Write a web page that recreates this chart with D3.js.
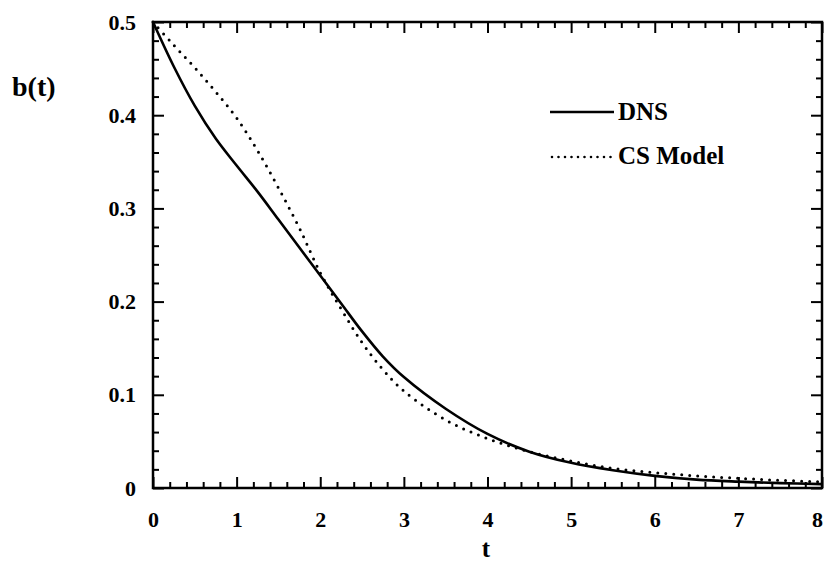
<!DOCTYPE html>
<html><head><meta charset="utf-8">
<script src="https://cdn.jsdelivr.net/npm/d3@7"></script>
<style>
html,body{margin:0;padding:0;background:#fff;}
svg{display:block;}
text{font-family:"Liberation Serif","Times New Roman",serif;font-weight:bold;fill:#000;}
</style></head>
<body><svg id="c" width="825" height="564"></svg>
<script>
const tValues = [0,0.25,0.5,0.75,1,1.25,1.5,1.75,2,2.25,2.5,2.75,3,3.5,4,4.5,5,5.5,6,6.5,7,7.5,8];
const dnsValues = [0.500,0.452,0.410,0.375,0.346,0.318,0.288,0.258,0.228,0.198,0.168,0.141,0.119,0.085,0.058,0.039,0.027,0.019,0.013,0.009,0.0068,0.0052,0.0042];
const csValues  = [0.500,0.475,0.451,0.425,0.397,0.362,0.322,0.279,0.231,0.192,0.156,0.127,0.104,0.073,0.053,0.039,0.029,0.021,0.0165,0.013,0.0104,0.0082,0.0066];
const xTickLabels = ["0","1","2","3","4","5","6","7","8"];
const yTickLabels = ["0","0.1","0.2","0.3","0.4","0.5"];
const seriesNames = ["DNS","CS Model"];

const svg = d3.select("#c");
const L=153, R=822, T=22, B=488;
const x = d3.scaleLinear().domain([0,8]).range([L,R]);
const y = d3.scaleLinear().domain([0,0.5]).range([B,T]);

const xMajor = xTickLabels.map(Number);
const yMajor = yTickLabels.map(Number);
const xMinor = d3.range(0,8.0001,0.2).filter(v=>Math.abs(v-Math.round(v))>1e-6);
const yMinor = d3.range(0,0.50001,0.02).filter(v=>Math.abs(v*10-Math.round(v*10))>1e-6);

function styleAxis(g){
  g.select(".domain").remove();
  g.selectAll(".tick line").attr("stroke","#000").attr("stroke-width",2);
}
// bottom
const bx = svg.append("g").attr("transform",`translate(0,${B})`)
  .call(d3.axisBottom(x).tickValues(xMajor).tickFormat((d,i)=>xTickLabels[i]).tickSize(-11).tickSizeOuter(0).tickPadding(23))
  .call(styleAxis);
bx.selectAll("text").style("font-size","22px").style("font-family","Liberation Serif").style("font-weight","bold");
bx.selectAll(".tick").filter(d=>d===8).select("text").attr("x",-5);
svg.append("g").attr("transform",`translate(0,${B})`)
  .call(d3.axisBottom(x).tickValues(xMinor).tickFormat("").tickSize(-6).tickSizeOuter(0)).call(styleAxis);
// top
svg.append("g").attr("transform",`translate(0,${T})`)
  .call(d3.axisTop(x).tickValues(xMajor).tickFormat("").tickSize(-11).tickSizeOuter(0)).call(styleAxis);
svg.append("g").attr("transform",`translate(0,${T})`)
  .call(d3.axisTop(x).tickValues(xMinor).tickFormat("").tickSize(-6).tickSizeOuter(0)).call(styleAxis);
// left
svg.append("g").attr("transform",`translate(${L},0)`)
  .call(d3.axisLeft(y).tickValues(yMajor).tickFormat((d,i)=>yTickLabels[i]).tickSize(-11).tickSizeOuter(0).tickPadding(17))
  .call(styleAxis).selectAll("text").style("font-size","22px").style("font-family","Liberation Serif").style("font-weight","bold");
svg.append("g").attr("transform",`translate(${L},0)`)
  .call(d3.axisLeft(y).tickValues(yMinor).tickFormat("").tickSize(-6).tickSizeOuter(0)).call(styleAxis);
// right
svg.append("g").attr("transform",`translate(${R},0)`)
  .call(d3.axisRight(y).tickValues(yMajor).tickFormat("").tickSize(-11).tickSizeOuter(0)).call(styleAxis);
svg.append("g").attr("transform",`translate(${R},0)`)
  .call(d3.axisRight(y).tickValues(yMinor).tickFormat("").tickSize(-6).tickSizeOuter(0)).call(styleAxis);

// frame
svg.append("rect").attr("x",L).attr("y",T).attr("width",R-L).attr("height",B-T)
  .attr("fill","none").attr("stroke","#000").attr("stroke-width",2.5);

const line = d3.line().x((d,i)=>x(tValues[i])).y(d=>y(d)).curve(d3.curveCatmullRom.alpha(0.5));
svg.append("path").datum(dnsValues).attr("d",line).attr("fill","none").attr("stroke","#000").attr("stroke-width",2.6);
svg.append("path").datum(csValues).attr("d",line).attr("fill","none").attr("stroke","#000").attr("stroke-width",3)
  .attr("stroke-linecap","round").attr("stroke-dasharray","0,8");

// legend
const lg = svg.append("g");
lg.append("line").attr("x1",550).attr("x2",614).attr("y1",112).attr("y2",112).attr("stroke","#000").attr("stroke-width",2.6);
lg.append("text").attr("x",618).attr("y",120).style("font-size","25px").text(seriesNames[0]);
lg.append("line").attr("x1",552).attr("x2",614).attr("y1",157).attr("y2",157).attr("stroke","#000").attr("stroke-width",2.6)
  .attr("stroke-linecap","round").attr("stroke-dasharray","0,6.5");
lg.append("text").attr("x",618).attr("y",164).style("font-size","25px").text(seriesNames[1]);

// axis titles
svg.append("text").attr("x",12).attr("y",96).style("font-size","28px").text("b(t)");
svg.append("text").attr("x",486).attr("y",557).attr("text-anchor","middle").style("font-size","25px").text("t");
</script></body></html>
